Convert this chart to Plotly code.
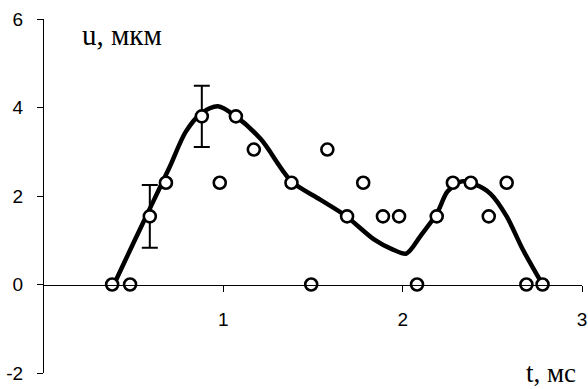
import plotly.graph_objects as go

# measured points
t_pts = [0.38, 0.48, 0.59, 0.68, 0.88, 0.98, 1.07, 1.17, 1.38, 1.49, 1.58, 1.69,
         1.78, 1.89, 1.98, 2.08, 2.19, 2.28, 2.38, 2.48, 2.58, 2.69, 2.78]
u_pts = [0.0, 0.0, 1.54, 2.3, 3.8, 2.3, 3.8, 3.05, 2.3, 0.0, 3.05, 1.54,
         2.3, 1.54, 1.54, 0.0, 1.54, 2.3, 2.3, 1.54, 2.3, 0.0, 0.0]
u_err = [0, 0, 0.71, 0, 0.69, 0, 0, 0, 0, 0, 0, 0,
         0, 0, 0, 0, 0, 0, 0, 0, 0, 0, 0]

# fitted curve
t_fit = [0.39, 0.50, 0.60, 0.70, 0.79, 0.88, 0.97, 1.07, 1.21, 1.38, 1.54, 1.68,
         1.84, 1.94, 2.02, 2.10, 2.19, 2.25, 2.33, 2.41, 2.49, 2.58, 2.67, 2.78]
u_fit = [0.0, 0.95, 1.8, 2.65, 3.45, 3.88, 4.03, 3.8, 3.28, 2.33, 1.92, 1.56,
         1.02, 0.8, 0.70, 1.1, 1.6, 2.1, 2.33, 2.25, 2.05, 1.54, 0.79, 0.0]

x_ticks = [1, 2, 3]
y_ticks = [-2, 0, 2, 4, 6]

fig = go.Figure()

fig.add_trace(go.Scatter(
    x=t_fit, y=u_fit, mode="lines",
    line=dict(color="black", width=4.5, shape="spline", smoothing=0.8),
    hoverinfo="skip", showlegend=False))

e_x = [t for t, e in zip(t_pts, u_err) if e > 0]
e_y = [u for u, e in zip(u_pts, u_err) if e > 0]
e_v = [e for e in u_err if e > 0]
fig.add_trace(go.Scatter(
    x=e_x, y=e_y, mode="markers", marker=dict(size=1, color="rgba(0,0,0,0)"),
    error_y=dict(type="data", array=e_v, visible=True, color="black",
                 thickness=2, width=8),
    hoverinfo="skip", showlegend=False))

fig.add_trace(go.Scatter(
    x=t_pts, y=u_pts, mode="markers",
    marker=dict(symbol="circle", size=12, color="white",
                line=dict(color="black", width=2.6)),
    showlegend=False))

fig.update_layout(
    template="none",
    width=588, height=389,
    margin=dict(l=44, r=6, t=19, b=16),
    paper_bgcolor="white", plot_bgcolor="white",
    font=dict(family="Liberation Sans, Arial", size=19, color="black"),
    xaxis=dict(range=[0, 3], tickvals=x_ticks, ticktext=[str(v) for v in x_ticks],
               showgrid=False, zeroline=False, showline=True, linecolor="black",
               linewidth=1, ticks="outside", ticklen=6, tickcolor="black",
               anchor="free", position=0.25, ticklabelstandoff=12,
               automargin=False, ticklabeloverflow="allow",
               tickfont=dict(family="Liberation Sans, Arial", size=19)),
    yaxis=dict(range=[-2, 6], tickvals=y_ticks, ticktext=[str(v) for v in y_ticks],
               showgrid=False, zeroline=False, showline=True, linecolor="black",
               linewidth=1, ticks="outside", ticklen=6, tickcolor="black",
               ticklabelstandoff=10, automargin=False, ticklabeloverflow="allow",
               tickfont=dict(family="Liberation Sans, Arial", size=19)),
    annotations=[
        dict(text="u, мкм", xref="paper", yref="paper", x=0.067, y=0.955,
             xanchor="left", yanchor="middle", showarrow=False,
             font=dict(family="Liberation Serif, Times New Roman", size=29)),
        dict(text="t, мс", xref="paper", yref="paper", x=0.993, y=0.0,
             xanchor="right", yanchor="middle", showarrow=False,
             font=dict(family="Liberation Serif, Times New Roman", size=27)),
    ],
)

fig.write_html("out.html",
               config={"displayModeBar": False},
               post_script="document.body.style.margin='0';"
                           "document.body.style.overflow='hidden';")
